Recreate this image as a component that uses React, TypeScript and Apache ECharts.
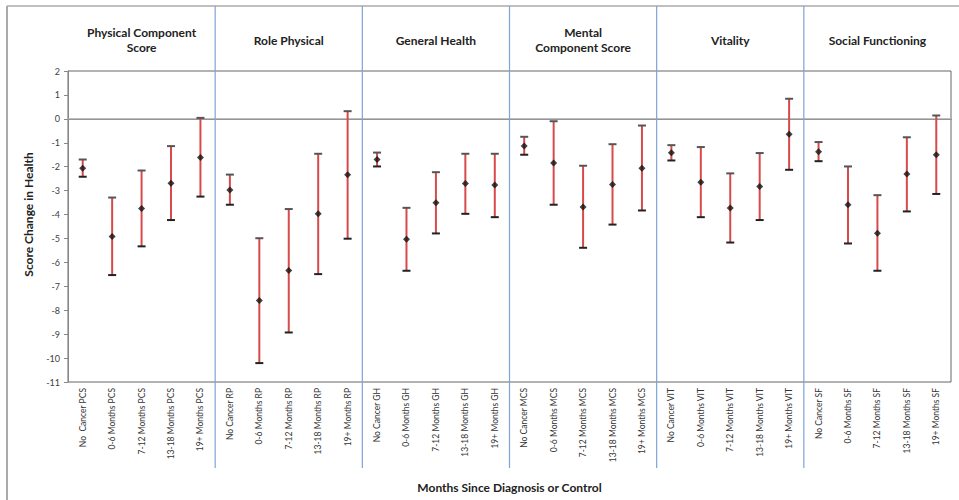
import React, { useEffect, useRef } from "react";
import * as echarts from "echarts";

const groupTitles = [
  "Physical Component\nScore",
  "Role Physical",
  "General Health",
  "Mental\nComponent Score",
  "Vitality",
  "Social Functioning",
];

const categories = [
  "No  Cancer PCS", "0-6 Months PCS", "7-12 Months PCS", "13-18 Months PCS", "19+ Months PCS",
  "No Cancer RP", "0-6 Months RP", "7-12 Months RP", "13-18 Months RP", "19+ Months RP",
  "No Cancer GH", "0-6 Months GH", "7-12 Months GH", "13-18 Months GH", "19+ Months GH",
  "No Cancer MCS", "0-6 Months MCS", "7-12 Months MCS", "13-18 Months MCS", "19+ Months MCS",
  "No Cancer VIT", "0-6 Months VIT", "7-12 Months VIT", "13-18 Months VIT", "19+ Months VIT",
  "No Cancer SF", "0-6 Months SF", "7-12 Months SF", "13-18 Months SF", "19+ Months SF",
];

const means = [
  -2.06, -4.92, -3.75, -2.69, -1.62,
  -2.97, -7.59, -6.34, -3.97, -2.34,
  -1.7, -5.03, -3.51, -2.7, -2.77,
  -1.13, -1.85, -3.68, -2.74, -2.06,
  -1.42, -2.65, -3.73, -2.83, -0.64,
  -1.38, -3.59, -4.78, -2.31, -1.5,
];

const upper = [
  -1.7, -3.29, -2.16, -1.14, 0.04,
  -2.33, -4.99, -3.77, -1.46, 0.32,
  -1.41, -3.72, -2.23, -1.46, -1.46,
  -0.75, -0.1, -1.96, -1.06, -0.28,
  -1.1, -1.18, -2.28, -1.43, 0.84,
  -0.97, -1.99, -3.19, -0.77, 0.14,
];

const lower = [
  -2.42, -6.53, -5.33, -4.23, -3.25,
  -3.59, -10.21, -8.93, -6.49, -5.01,
  -1.99, -6.35, -4.79, -3.97, -4.11,
  -1.5, -3.59, -5.39, -4.42, -3.83,
  -1.74, -4.11, -5.17, -4.23, -2.13,
  -1.77, -5.21, -6.35, -3.87, -3.14,
];

const FONT = "Lato, 'Noto Sans', sans-serif";
const RED = "#d84a4a";
const SEP = "#7ea3d8";

export default function App() {
  const ref = useRef<HTMLDivElement>(null);

  useEffect(() => {
    document.body.style.margin = "0";
    if (!ref.current) return;
    const chart = echarts.init(ref.current, null, { renderer: "svg" });
    const option: any = {
      animation: false,
      backgroundColor: "#ffffff",
      textStyle: { fontFamily: FONT },
      grid: {
        left: 68,
        right: 8,
        top: 71,
        bottom: 118,
        show: true,
        borderColor: "#666",
        borderWidth: 1,
      },
      xAxis: {
        type: "category",
        data: categories,
        boundaryGap: true,
        name: "Months Since Diagnosis or Control",
        nameLocation: "middle",
        nameGap: 99,
        nameTextStyle: { fontFamily: FONT, fontWeight: "bold", fontSize: 12, color: "#222" },
        axisLine: { show: true, lineStyle: { color: "#555", width: 1 } },
        axisTick: { show: false },
        axisLabel: {
          rotate: 90,
          interval: 0,
          fontFamily: FONT,
          fontSize: 8.5,
          color: "#333",
          margin: 6,
        },
        splitLine: { show: false },
      },
      yAxis: {
        type: "value",
        min: -11,
        max: 2,
        interval: 1,
        name: "Score Change in Health",
        nameLocation: "middle",
        nameRotate: 90,
        nameGap: 34,
        nameTextStyle: {
          fontFamily: FONT,
          fontWeight: "bold",
          fontSize: 12,
          color: "#222",
          padding: [0, 0, 0, 24],
        },
        axisLine: { show: true, lineStyle: { color: "#888", width: 1 } },
        axisTick: { show: true, length: 4, lineStyle: { color: "#888" } },
        axisLabel: { fontFamily: FONT, fontSize: 9, color: "#404040", margin: 8 },
        splitLine: { show: false },
      },
      series: [
        {
          type: "custom",
          name: "CI",
          data: categories.map((c, i) => [i, lower[i], upper[i]]),
          encode: { x: 0, y: [1, 2] },
          renderItem: (params: any, api: any) => {
            const idx = api.value(0);
            const lo = api.coord([idx, api.value(1)]);
            const hi = api.coord([idx, api.value(2)]);
            const cap = 4;
            return {
              type: "group",
              children: [
                {
                  type: "line",
                  shape: { x1: hi[0], y1: hi[1], x2: lo[0], y2: lo[1] },
                  style: { stroke: RED, lineWidth: 2 },
                },
                {
                  type: "line",
                  shape: { x1: hi[0] - cap, y1: hi[1], x2: hi[0] + cap, y2: hi[1] },
                  style: { stroke: "#555", lineWidth: 2 },
                },
                {
                  type: "line",
                  shape: { x1: lo[0] - cap, y1: lo[1], x2: lo[0] + cap, y2: lo[1] },
                  style: { stroke: "#222", lineWidth: 2 },
                },
              ],
            };
          },
          z: 2,
        },
        {
          type: "scatter",
          name: "Mean",
          data: means,
          symbol: "diamond",
          symbolSize: 7,
          itemStyle: { color: "#111" },
          z: 3,
          markLine: {
            silent: true,
            symbol: "none",
            label: { show: false },
            lineStyle: { color: "#aaa", width: 1.5, type: "solid" },
            data: [{ yAxis: 0 }],
            z: 1,
          },
        },
      ],
    };
    chart.setOption(option);

    const px = (i: number) => chart.convertToPixel({ xAxisIndex: 0 }, i) as number;
    const graphics: any[] = [];
    graphics.push({
      type: "line",
      shape: { x1: 7, y1: 6, x2: 959, y2: 6 },
      style: { stroke: "#aaa", lineWidth: 1.5 },
    });
    graphics.push({
      type: "line",
      shape: { x1: 7, y1: 6, x2: 7, y2: 500 },
      style: { stroke: "#aaa", lineWidth: 2 },
    });
    for (let g = 1; g < groupTitles.length; g++) {
      const x = (px(g * 5 - 1) + px(g * 5)) / 2;
      graphics.push({
        type: "line",
        shape: { x1: x, y1: 6, x2: x, y2: 468 },
        style: { stroke: SEP, lineWidth: 1.2 },
        z: 10,
      });
    }
    groupTitles.forEach((t, g) => {
      const cx = (px(g * 5) + px(g * 5 + 4)) / 2;
      graphics.push({
        type: "text",
        x: cx,
        y: 40,
        style: {
          text: t,
          fontFamily: FONT,
          fontWeight: "bold",
          fontSize: 12,
          lineHeight: 15,
          fill: "#222",
          align: "center",
          verticalAlign: "middle",
        },
      });
    });
    chart.setOption({ graphic: graphics });

    return () => chart.dispose();
  }, []);

  return <div ref={ref} style={{ width: 959, height: 500 }} />;
}
